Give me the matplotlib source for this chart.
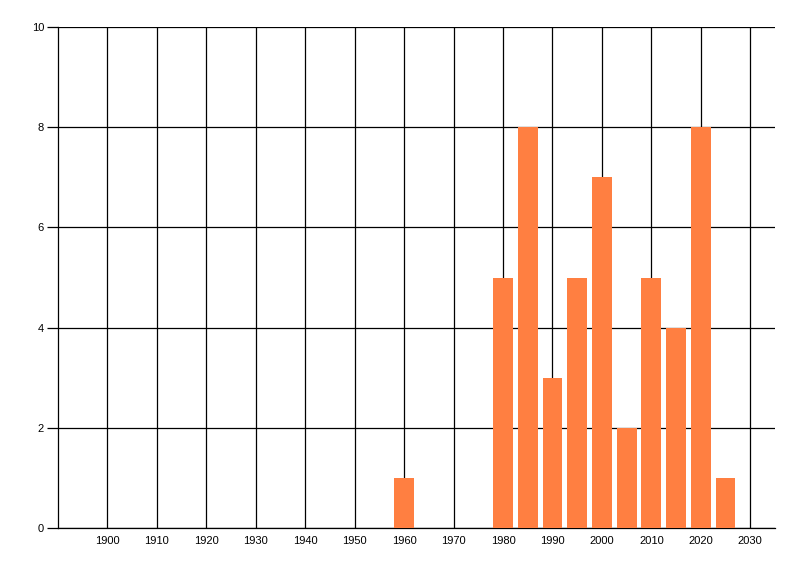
import matplotlib
matplotlib.use('Agg')
import matplotlib.pyplot as plt
import numpy as np

# data
years = [1960, 1980, 1985, 1990, 1995, 2000, 2005, 2010, 2015, 2020, 2025]
counts = [1, 5, 8, 3, 5, 7, 2, 5, 4, 8, 1]
x_ticks = list(range(1900, 2031, 10))
y_ticks = [0, 2, 4, 6, 8, 10]

bar_color = '#FF7F41'

plt.rcParams['font.family'] = ['Liberation Sans', 'DejaVu Sans']

fig = plt.figure(figsize=(8, 5.76), dpi=100)
ax = fig.add_axes([58 / 800, 1 - 528 / 576, (775 - 58) / 800, (528 - 27) / 576])

ax.bar(years, counts, width=4, color=bar_color, zorder=3)

ax.set_xlim(1890, 2035)
ax.set_ylim(0, 10)
ax.set_xticks(x_ticks)
ax.set_yticks(y_ticks)
ax.set_xticklabels([str(t) for t in x_ticks], fontsize=8)
ax.set_yticklabels([str(t) for t in y_ticks], fontsize=8)

ax.grid(True, color='black', linewidth=0.9, zorder=1)
ax.set_axisbelow(True)
ax.tick_params(axis='x', length=0, pad=6)
ax.tick_params(axis='y', length=8, width=0.9, pad=2)

for side in ['top', 'right']:
    ax.spines[side].set_visible(False)
for side in ['left', 'bottom']:
    ax.spines[side].set_linewidth(0.9)

fig.savefig('out.png', dpi=100)
